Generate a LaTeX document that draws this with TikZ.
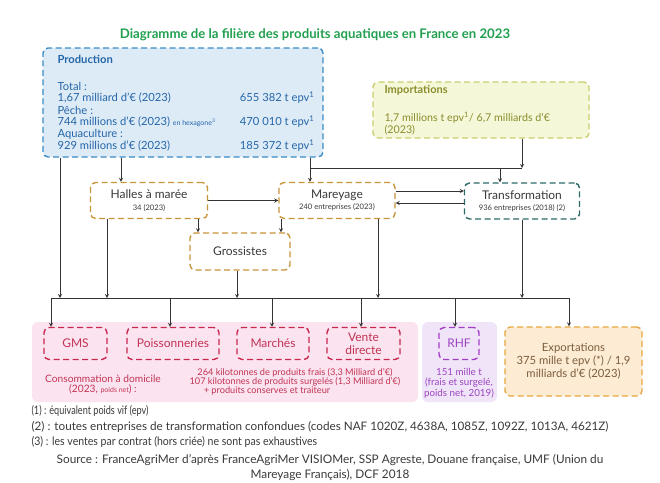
\documentclass[tikz,border=0pt]{standalone}
\usepackage{fontspec}
\setmainfont{Lato}
\newfontfamily\narrowfont[FakeStretch=0.78]{Lato}
\newfontfamily\halfnarrowfont[FakeStretch=0.9]{Lato}
\newcommand{\subtxt}{\fontsize{7.6}{8}\selectfont}
\usetikzlibrary{positioning}
\definecolor{ttlgreen}{HTML}{22A04F}
\definecolor{prodfill}{HTML}{DDEBF7}
\definecolor{prodline}{HTML}{3B8CC6}
\definecolor{prodtext}{HTML}{2566A8}
\definecolor{impfill}{HTML}{F5F8D8}
\definecolor{impline}{HTML}{CBCD6E}
\definecolor{imptext}{HTML}{8A8C2C}
\definecolor{filline}{HTML}{C9953A}
\definecolor{traline}{HTML}{2E6B68}
\definecolor{txtgray}{HTML}{3A3A3A}
\definecolor{distfill}{HTML}{FBE4EF}
\definecolor{distline}{HTML}{C8284E}
\definecolor{disttext}{HTML}{C23355}
\definecolor{rhffill}{HTML}{EFE4F8}
\definecolor{rhfline}{HTML}{A43DC6}
\definecolor{rhftext}{HTML}{9E45C0}
\definecolor{expfill}{HTML}{FDEBD3}
\definecolor{expline}{HTML}{E6A63E}
\definecolor{exptext}{HTML}{7C5E3E}
\definecolor{linegray}{HTML}{333333}

\begin{document}
\begin{tikzpicture}[x=1pt,y=-1pt,>=stealth,
  line/.style={draw=linegray,line width=0.8pt},
  conn/.style={line,->},
  dbox/.style={draw,dash pattern=on 6pt off 3.5pt,line width=1.4pt,rounded corners=5pt,align=center,inner sep=0pt},
  filbox/.style={dbox,draw=filline,fill=white,text=txtgray,font=\fontsize{12}{13}\selectfont},
  distbox/.style={dbox,draw=distline,text=disttext,minimum height=32pt,font=\fontsize{12}{13.5}\selectfont},
  zone/.style={rounded corners=6pt,inner sep=0pt},
  prodtxt/.style={anchor=west,text=prodtext,font=\fontsize{11.2}{12}\selectfont},
  prodval/.style={prodtxt,anchor=east},
  note/.style={anchor=west,text=txtgray,font=\fontsize{11.7}{12}\selectfont}]

\useasboundingbox[fill=white] (0,0) rectangle (660,482);

% titre
\node[text=ttlgreen,font=\bfseries\fontsize{13.2}{14}\selectfont] (titre) at (315,35) {Diagramme de la filière des produits aquatiques en France en 2023};

% production
\node[dbox,draw=prodline,fill=prodfill,minimum width=280pt,minimum height=109pt] (prod) at (183,102.5) {};
\node[prodtxt,font=\bfseries\fontsize{11.2}{12}\selectfont] (prodtitre) at (54,59) {Production};
\node[prodtxt] (ptot) at (54,86) {Total :};
\node[prodtxt] (ptotv) at (54,98) {1,67 milliard d’€ (2023)};
\node[prodval] (ptott) at (318,98) {655 382 t epv\textsuperscript{1}};
\node[prodtxt] (ppec) at (54,110) {Pêche :};
\node[prodtxt] (ppecv) at (54,122) {744 millions d’€ (2023) {\fontsize{7}{7}\selectfont en hexagone\textsuperscript{3}}};
\node[prodval] (ppect) at (318,122) {470 010 t epv\textsuperscript{1}};
\node[prodtxt] (paqu) at (54,134) {Aquaculture :};
\node[prodtxt] (paquv) at (54,146) {929 millions d’€ (2023)};
\node[prodval] (paqut) at (318,146) {185 372 t epv\textsuperscript{1}};

% importations
\node[dbox,draw=impline,fill=impfill,minimum width=216pt,minimum height=56pt] (imp) at (481,110) {};
\node[anchor=west,text=imptext,font=\bfseries\fontsize{11}{12}\selectfont] (imptitre) at (381,90) {Importations};
\node[anchor=west,text=imptext,font=\fontsize{10.7}{12}\selectfont] (impv) at (381,118) {1,7 millions t epv\textsuperscript{1}/ 6,7 milliards d’€};
\node[anchor=west,text=imptext,font=\fontsize{10.7}{12}\selectfont] (impa) at (381,130) {(2023)};

% filiere
\node[filbox,minimum width=117pt,minimum height=36pt] (halles) at (149,200.5) {Halles à marée\\[-1.5pt]{\subtxt 34 (2023)}};
\node[filbox,minimum width=116pt,minimum height=36pt] (mar) at (337,200.5) {Mareyage\\[-1.5pt]{\subtxt 240 entreprises (2023)}};
\node[filbox,draw=traline,minimum width=115pt,minimum height=36pt] (trans) at (522,201) {Transformation\\[-1.5pt]{\subtxt 936 entreprises (2018) (2)}};
\node[filbox,minimum width=100pt,minimum height=37pt] (gross) at (240,251.5) {Grossistes};

% debouches
\node[zone,fill=distfill,minimum width=386pt,minimum height=80pt] (domicile) at (225,362) {};
\node[zone,fill=rhffill,minimum width=75pt,minimum height=80pt] (rhfzone) at (459.5,362) {};
\node[distbox,minimum width=63pt] (gms) at (75.5,343.5) {GMS};
\node[distbox,minimum width=92pt] (poiss) at (173,343.5) {Poissonneries};
\node[distbox,minimum width=72pt] (marches) at (273,343.5) {Marchés};
\node[distbox,minimum width=73pt] (vente) at (363.5,343.5) {Vente\\directe};
\node[dbox,draw=rhfline,text=rhftext,minimum width=40pt,minimum height=32pt,font=\fontsize{12}{13}\selectfont] (rhf) at (459,343.5) {RHF};
\node[text=disttext,align=center,font=\fontsize{10.2}{9.5}\selectfont] (conso) at (103,384.5) {Consommation à domicile\\(2023, {\fontsize{7}{7}\selectfont poids net}) :};
\node[text=disttext,align=center,font=\fontsize{9.2}{9}\selectfont] (volumes) at (295,377.5) {264 kilotonnes de produits frais (3,3 Milliard d’€)\\107 kilotonnes de produits surgelés (1,3 Milliard d’€)};
\node[text=disttext,font=\fontsize{9.2}{9}\selectfont] (conserves) at (267,391) {+ produits conserves et traiteur};
\node[text=rhftext,align=center,font=\fontsize{9.8}{10.5}\selectfont] (rhfv) at (459,383) {151 mille t\\(frais et surgelé,\\poids net, 2019)};
\node[dbox,draw=expline,fill=expfill,text=exptext,minimum width=137pt,minimum height=69pt,font=\fontsize{11.3}{13}\selectfont] (export) at (573.5,361.5) {Exportations\\375 mille t epv (*) / 1,9\\milliards d’€ (2023)};

% notes
\node[note,font=\narrowfont\fontsize{11.7}{12}\selectfont] (n1) at (28,411) {(1) : équivalent poids vif (epv)};
\node[note] (n2) at (28,427) {(2) : toutes entreprises de transformation confondues (codes NAF 1020Z, 4638A, 1085Z, 1092Z, 1013A, 4621Z)};
\node[note,font=\halfnarrowfont\fontsize{11.7}{12}\selectfont] (n3) at (28,442) {(3) : les ventes par contrat (hors criée) ne sont pas exhaustives};
\node[text=txtgray,align=center,font=\fontsize{11.8}{15}\selectfont] (source) at (330,467.5) {Source : FranceAgriMer d’après FranceAgriMer VISIOMer, SSP Agreste, Douane française, UMF (Union du\\Mareyage Français), DCF 2018};

% points de jonction
\coordinate (pm) at (310,168);
\coordinate (jn) at (522,168);
\coordinate (jt) at (500,168);
\coordinate (ph) at (121,170);
\coordinate (hg) at (198,230);
\coordinate (mg) at (281,230);
\coordinate (bProd) at (60,298);
\coordinate (bHal) at (107,298);
\coordinate (bGro) at (237,298);
\coordinate (bMar) at (378,298);
\coordinate (bTra) at (522,298);
\coordinate (dGms) at (51,298);
\coordinate (dPoi) at (170,298);
\coordinate (dMar) at (272,298);
\coordinate (dVen) at (361,298);
\coordinate (dRhf) at (455,298);
\coordinate (dExp) at (569,298);
\coordinate (mt1) at ([yshift=9.5pt]mar.east);
\coordinate (tm1) at ([yshift=-2pt]trans.west);

% liaisons
\draw[conn] (prod.south -| ph) -- (halles.north -| ph);
\draw[conn] (prod.south -| pm) -- (mar.north -| pm);
\draw[line] (pm) -- (jn);
\draw[conn] (imp.south -| jn) -- (jn);
\draw[conn] (jt) -- (trans.north -| jt);
\draw[conn] (halles.east) -- (halles.east -| mar.west);
\draw[conn] (mt1) -- (mt1 -| trans.west);
\draw[conn] (tm1) -- (tm1 -| mar.east);
\draw[conn] (halles.south -| hg) -- (gross.north -| hg);
\draw[conn] (mar.south -| mg) -- (gross.north -| mg);

% vers le bus
\draw[line] (dGms) -- (dExp);
\draw[conn] (prod.south -| bProd) -- (bProd);
\draw[conn] (halles.south -| bHal) -- (bHal);
\draw[conn] (gross.south -| bGro) -- (bGro);
\draw[conn] (mar.south -| bMar) -- (bMar);
\draw[conn] (trans.south -| bTra) -- (bTra);
\draw[conn] (dGms) -- (gms.north -| dGms);
\draw[conn] (dPoi) -- (poiss.north -| dPoi);
\draw[conn] (dMar) -- (marches.north -| dMar);
\draw[conn] (dVen) -- (vente.north -| dVen);
\draw[conn] (dRhf) -- (rhf.north -| dRhf);
\draw[conn] (dExp) -- (export.north -| dExp);
\end{tikzpicture}
\end{document}
